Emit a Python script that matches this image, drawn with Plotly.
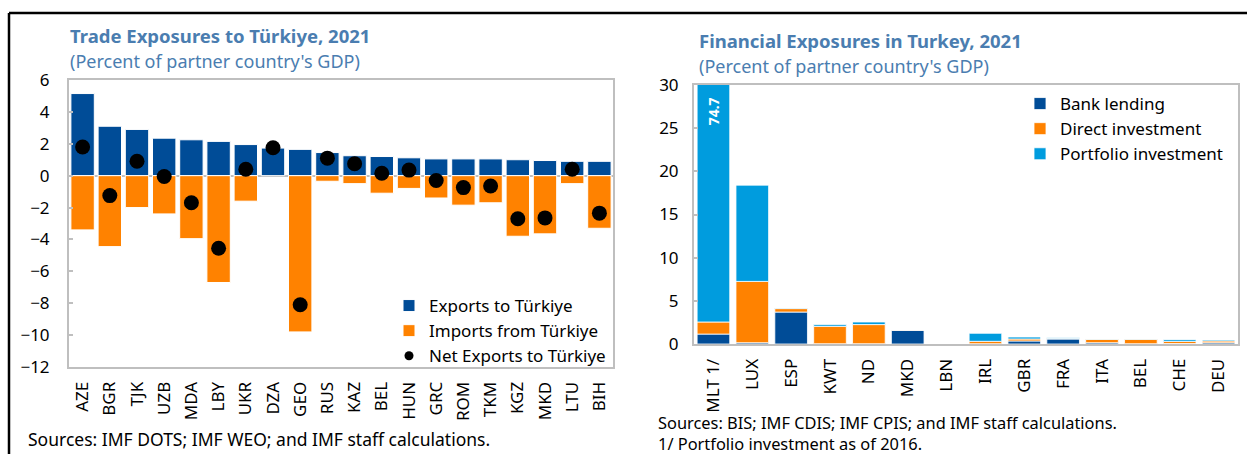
import plotly.graph_objects as go

W, H = 1247, 454

# ---- Left panel data: Trade exposures to Türkiye, 2021 (% of partner GDP)
trade_countries = ["AZE", "BGR", "TJK", "UZB", "MDA", "LBY", "UKR", "DZA", "GEO", "RUS",
                   "KAZ", "BEL", "HUN", "GRC", "ROM", "TKM", "KGZ", "MKD", "LTU", "BIH"]
exports_to_tr = [5.15, 3.1, 2.9, 2.35, 2.25, 2.15, 1.95, 1.75, 1.65, 1.45,
                 1.25, 1.2, 1.12, 1.05, 1.05, 1.05, 1.0, 0.95, 0.9, 0.9]
imports_from_tr = [-3.4, -4.45, -2.0, -2.4, -3.95, -6.7, -1.6, 0.0, -9.8, -0.35,
                   -0.5, -1.1, -0.8, -1.4, -1.85, -1.7, -3.8, -3.65, -0.5, -3.3]
net_exports = [1.8, -1.25, 0.9, -0.05, -1.7, -4.55, 0.4, 1.75, -8.1, 1.1,
               0.75, 0.15, 0.35, -0.3, -0.75, -0.65, -2.7, -2.65, 0.4, -2.35]

# ---- Right panel data: Financial exposures in Turkey, 2021 (% of partner GDP)
fin_countries = ["MLT 1/", "LUX", "ESP", "KWT", "ND", "MKD", "LBN",
                 "IRL", "GBR", "FRA", "ITA", "BEL", "CHE", "DEU"]
bank_lending = [1.15, 0.15, 3.7, 0.03, 0.03, 1.6, 0.0, 0.03, 0.35, 0.58, 0.15, 0.03, 0.05, 0.15]
direct_inv = [1.4, 7.1, 0.4, 2.02, 2.22, 0.03, 0.0, 0.28, 0.23, 0.05, 0.39, 0.52, 0.25, 0.2]
portfolio_inv = [72.15, 11.15, 0.08, 0.2, 0.3, 0.0, 0.0, 0.93, 0.23, 0.1, 0.05, 0.03, 0.2, 0.11]
mlt_total_label = "74.7"

DARK_BLUE = "#004C97"
ORANGE = "#FF8200"
LIGHT_BLUE = "#009CDE"
TITLE_COL = "#4A7DB0"
FRAME = "#BFBFBF"
FONT = "Noto Sans"
TICK_SIZE = 17


def px_x(x):
    return x / W


def px_y(y):
    return 1 - y / H


fig = go.Figure()

# Left panel traces
fig.add_trace(go.Bar(x=trade_countries, y=exports_to_tr, name="Exports to Türkiye",
                     marker=dict(color=DARK_BLUE, line=dict(color="white", width=1)),
                     width=0.86, xaxis="x", yaxis="y", legend="legend"))
fig.add_trace(go.Bar(x=trade_countries, y=imports_from_tr, name="Imports from Türkiye",
                     marker=dict(color=ORANGE, line=dict(color="white", width=1)),
                     width=0.86, xaxis="x", yaxis="y", legend="legend"))
fig.add_trace(go.Scatter(x=trade_countries, y=net_exports, mode="markers",
                         marker=dict(color="black", size=15), showlegend=False,
                         xaxis="x", yaxis="y"))
fig.add_trace(go.Scatter(x=[None], y=[None], mode="markers", name="Net Exports to Türkiye",
                         marker=dict(color="black", size=9), xaxis="x", yaxis="y",
                         legend="legend"))

# Right panel traces
for vals, nm, col in [(bank_lending, "Bank lending", DARK_BLUE),
                      (direct_inv, "Direct investment", ORANGE),
                      (portfolio_inv, "Portfolio investment", LIGHT_BLUE)]:
    fig.add_trace(go.Bar(x=fin_countries, y=vals, name=nm,
                         marker=dict(color=col, line=dict(color="white", width=0.8)),
                         width=0.84, xaxis="x2", yaxis="y2", legend="legend2"))

axis_common = dict(showline=True, linecolor=FRAME, linewidth=2, mirror=True,
                   showgrid=False, automargin=False,
                   tickfont=dict(family=FONT, size=TICK_SIZE, color="black"))

fig.update_layout(
    template="none",
    width=W, height=H,
    margin=dict(l=0, r=0, t=0, b=0, autoexpand=False),
    paper_bgcolor="white", plot_bgcolor="white",
    barmode="relative",
    font=dict(family=FONT, size=TICK_SIZE, color="black"),
    xaxis=dict(domain=[px_x(69), px_x(613)], anchor="y", type="category",
               range=[-0.5, len(trade_countries) - 0.5],
               tickangle=-90, ticks="", ticklabelstandoff=6, **axis_common),
    yaxis=dict(domain=[px_y(367), px_y(80)], anchor="x", range=[-12, 6], dtick=2,
               ticks="inside", ticklen=4, tickcolor=FRAME, tickwidth=2,
               zeroline=True, zerolinecolor=FRAME, zerolinewidth=2,
               ticklabelstandoff=14, **axis_common),
    xaxis2=dict(domain=[px_x(694), px_x(1238)], anchor="y2", type="category",
                range=[-0.5, len(fin_countries) - 0.5],
                tickangle=-90, ticks="", ticklabelstandoff=6, **axis_common),
    yaxis2=dict(domain=[px_y(344), px_y(85)], anchor="x2", range=[0, 30], dtick=5,
                ticks="inside", ticklen=4, tickcolor=FRAME, tickwidth=2,
                zeroline=False, ticklabelstandoff=10, **axis_common),
    legend=dict(x=px_x(389), y=px_y(288), xanchor="left", yanchor="top",
                bgcolor="rgba(0,0,0,0)", font=dict(family=FONT, size=TICK_SIZE),
                traceorder="normal", itemclick=False),
    legend2=dict(x=px_x(1020), y=px_y(86), xanchor="left", yanchor="top",
                 bgcolor="rgba(0,0,0,0)", font=dict(family=FONT, size=TICK_SIZE),
                 traceorder="normal", itemclick=False),
    showlegend=True,
)

annotations = [
    dict(text="<b>Trade Exposures to Türkiye, 2021</b>", x=px_x(68), y=px_y(35),
         font=dict(size=18.5, color=TITLE_COL)),
    dict(text="(Percent of partner country's GDP)", x=px_x(68), y=px_y(61),
         font=dict(size=18, color=TITLE_COL)),
    dict(text="<b>Financial Exposures in Turkey, 2021</b>", x=px_x(697), y=px_y(40),
         font=dict(size=18.5, color=TITLE_COL)),
    dict(text="(Percent of partner country's GDP)", x=px_x(697), y=px_y(66),
         font=dict(size=18, color=TITLE_COL)),
    dict(text="Sources: IMF DOTS; IMF WEO; and IMF staff calculations.", x=px_x(26), y=px_y(439),
         font=dict(size=17.5, color="black")),
    dict(text="Sources: BIS; IMF CDIS; IMF CPIS; and IMF staff calculations.", x=px_x(656), y=px_y(422),
         font=dict(size=16.4, color="black")),
    dict(text="1/ Portfolio investment as of 2016.", x=px_x(656), y=px_y(443),
         font=dict(size=16.4, color="black")),
]
for a in annotations:
    a.update(xref="paper", yref="paper", xanchor="left", yanchor="middle", showarrow=False)
    a["font"]["family"] = FONT
    fig.add_annotation(**a)

fig.add_annotation(text="<b>" + mlt_total_label + "</b>", x=fin_countries[0], y=27.0,
                   xref="x2", yref="y2", textangle=-90, showarrow=False,
                   font=dict(family=FONT, size=14, color="white"))

# Outer black frame
fig.add_shape(type="line", xref="paper", yref="paper", x0=px_x(9), x1=1.0,
              y0=px_y(13), y1=px_y(13), line=dict(color="black", width=2.5))
fig.add_shape(type="line", xref="paper", yref="paper", x0=px_x(9), x1=px_x(9),
              y0=0, y1=px_y(13), line=dict(color="black", width=2.5))

fig.write_html("out.html", config={"displayModeBar": False},
               post_script="document.body.style.margin='0';document.body.style.overflow='hidden';")
